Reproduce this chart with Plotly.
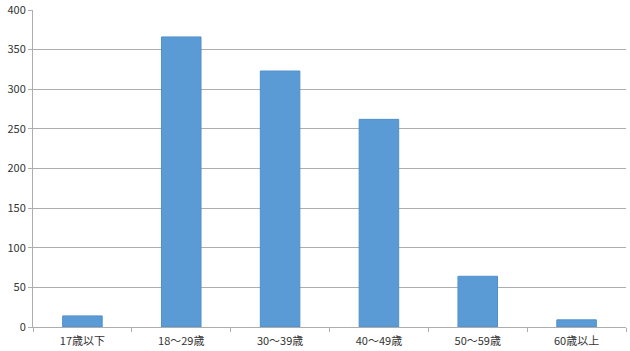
import plotly.graph_objects as go

categories = ["17歳以下", "18〜29歳", "30〜39歳", "40〜49歳", "50〜59歳", "60歳以上"]
values = [14, 366, 323, 262, 64, 9]
y_ticks = [0, 50, 100, 150, 200, 250, 300, 350, 400]

fig = go.Figure(go.Bar(
    x=categories, y=values,
    marker=dict(color="#5B9BD5", line=dict(color="#4F8FCB", width=1)),
    width=0.4,
))

fig.update_layout(
    width=630, height=351,
    margin=dict(l=33, r=4, t=10, b=24),
    paper_bgcolor="white", plot_bgcolor="white",
    font=dict(family="Noto Sans CJK JP, sans-serif", size=11, color="#333333"),
    showlegend=False,
    bargap=0.6,
)
fig.update_xaxes(
    showline=True, linecolor="#ADADAD", linewidth=1,
    ticks="outside", tickson="boundaries", ticklen=4, tickcolor="#ADADAD",
    ticklabelstandoff=4, automargin=False,
    showgrid=False,
)
fig.update_yaxes(
    range=[0, 400], tickvals=y_ticks,
    showline=True, linecolor="#ADADAD", linewidth=1,
    ticks="outside", ticklen=4, tickcolor="#ADADAD",
    showgrid=True, gridcolor="#ADADAD", gridwidth=1,
    zeroline=False, automargin=False,
)

fig.write_html("out.html")
